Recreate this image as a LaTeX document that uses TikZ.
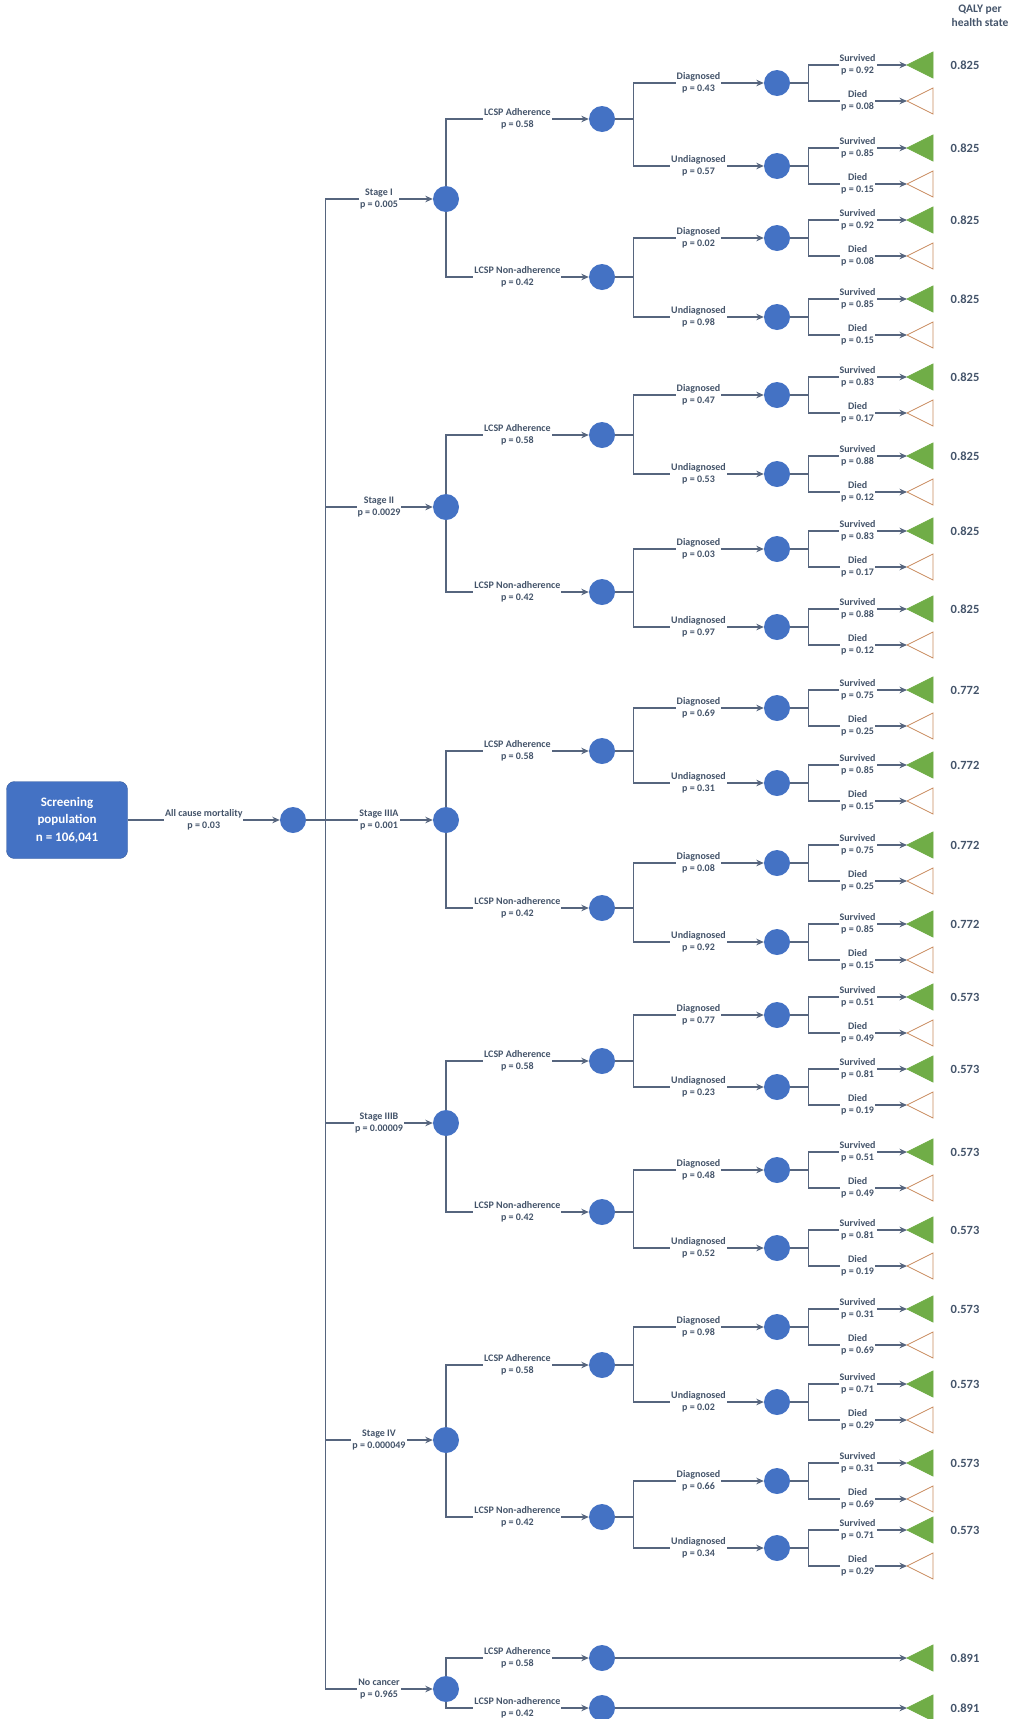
\documentclass[tikz,border=0pt]{standalone}
\usepackage{fontspec}
\setmainfont{Carlito}
\usetikzlibrary{arrows.meta}
\definecolor{dtblue}{HTML}{4472C4}
\definecolor{dtslate}{HTML}{44546A}
\definecolor{dtline}{HTML}{56657E}
\definecolor{dtgreen}{HTML}{70AD47}
\definecolor{dtorange}{HTML}{C98B5E}

% second level: LCSP adherence chance node
\newcommand{\lcspnode}[5]{%
  \node[chance] (#1) at (602,#2) {};
  \draw[edge] (#3) |- node[lbl,pos=0.75]{#4\\p = #5} (#1);
}
% third level: diagnosis chance node with survived / died leaves
\newcommand{\outcomepair}[7]{%
  \node[chance] (#1) at (777,#2) {};
  \draw[stub] (#3.east) -- ++(18,0);
  \draw[edge] (#3.east) -- ++(18,0) |- node[lbl,pos=0.75]{#4} (#1);
  \coordinate (#1s) at (907,{#2-18});
  \coordinate (#1d) at (907,{#2+18});
  \draw[stub] (#1.east) -- ++(18,0);
  \draw[edge] (#1.east) -- ++(18,0) |- node[lbl,pos=0.75]{Survived\\p = #5} (#1s);
  \draw[edge] (#1.east) -- ++(18,0) |- node[lbl,pos=0.75]{Died\\p = #6} (#1d);
  \filldraw[alive] (#1s) -- ++(26,-13) -- ++(0,26) -- cycle;
  \filldraw[dead] (#1d) -- ++(26,-13) -- ++(0,26) -- cycle;
  \node[qaly] (#1v) at (965,{#2-18}) {#7};
}

\begin{document}
\begin{tikzpicture}[x=1pt, y=-1pt,
  chance/.style={circle, fill=dtblue, minimum size=26pt, inner sep=0pt},
  edge/.style={draw=dtline, line width=1.3pt, -{Stealth[length=7.5pt,width=6.5pt]}},
  stub/.style={draw=dtline, line width=2.4pt},
  lbl/.style={fill=white, inner sep=1pt, align=center, text=dtslate, font=\bfseries\fontsize{10}{12.5}\selectfont},
  alive/.style={fill=dtgreen, draw=dtgreen, line width=0.8pt},
  dead/.style={fill=white, draw=dtorange, line width=0.8pt},
  qaly/.style={text=dtslate, font=\bfseries\fontsize{12.5}{15}\selectfont},
  root/.style={rounded corners=8pt, fill=dtblue, draw=dtblue!80!black, text=white, align=center,
    minimum width=121pt, minimum height=77pt, font=\bfseries\fontsize{13}{17.5}\selectfont}]
  \useasboundingbox (0,0) rectangle (1011,1719);

  % column header
  \node[qaly, align=center, font=\bfseries\fontsize{11.5}{14}\selectfont] (head) at (980,16) {QALY per\\health state};

  % screening population and all cause mortality
  \node[root] (pop) at (67,820) {Screening\\population\\n = 106,041};
  \node[chance] (n0) at (293,820) {};
  \draw[edge] (pop) -- node[lbl]{All cause mortality\\p = 0.03} (n0);
  \draw[stub] (n0.east) -- ++(19,0);

  % stage I
  \node[chance] (s1) at (446,199) {};
  \draw[edge] (n0.east) -- ++(19,0) |- node[lbl,pos=0.75]{Stage I\\p = 0.005} (s1);
  \lcspnode{s1a}{119}{s1}{LCSP Adherence}{0.58}
  \lcspnode{s1n}{277}{s1}{LCSP Non-adherence}{0.42}
  \outcomepair{s1ad}{83}{s1a}{Diagnosed\\p = 0.43}{0.92}{0.08}{0.825}
  \outcomepair{s1au}{166}{s1a}{Undiagnosed\\p = 0.57}{0.85}{0.15}{0.825}
  \outcomepair{s1nd}{238}{s1n}{Diagnosed\\p = 0.02}{0.92}{0.08}{0.825}
  \outcomepair{s1nu}{317}{s1n}{Undiagnosed\\p = 0.98}{0.85}{0.15}{0.825}

  % stage II
  \node[chance] (s2) at (446,507) {};
  \draw[edge] (n0.east) -- ++(19,0) |- node[lbl,pos=0.75]{Stage II\\p = 0.0029} (s2);
  \lcspnode{s2a}{435}{s2}{LCSP Adherence}{0.58}
  \lcspnode{s2n}{592}{s2}{LCSP Non-adherence}{0.42}
  \outcomepair{s2ad}{395}{s2a}{Diagnosed\\p = 0.47}{0.83}{0.17}{0.825}
  \outcomepair{s2au}{474}{s2a}{Undiagnosed\\p = 0.53}{0.88}{0.12}{0.825}
  \outcomepair{s2nd}{549}{s2n}{Diagnosed\\p = 0.03}{0.83}{0.17}{0.825}
  \outcomepair{s2nu}{627}{s2n}{Undiagnosed\\p = 0.97}{0.88}{0.12}{0.825}

  % stage IIIA
  \node[chance] (s3) at (446,820) {};
  \draw[edge] (n0.east) -- ++(19,0) |- node[lbl,pos=0.75]{Stage IIIA\\p = 0.001} (s3);
  \lcspnode{s3a}{751}{s3}{LCSP Adherence}{0.58}
  \lcspnode{s3n}{908}{s3}{LCSP Non-adherence}{0.42}
  \outcomepair{s3ad}{708}{s3a}{Diagnosed\\p = 0.69}{0.75}{0.25}{0.772}
  \outcomepair{s3au}{783}{s3a}{Undiagnosed\\p = 0.31}{0.85}{0.15}{0.772}
  \outcomepair{s3nd}{863}{s3n}{Diagnosed\\p = 0.08}{0.75}{0.25}{0.772}
  \outcomepair{s3nu}{942}{s3n}{Undiagnosed\\p = 0.92}{0.85}{0.15}{0.772}

  % stage IIIB
  \node[chance] (s4) at (446,1123) {};
  \draw[edge] (n0.east) -- ++(19,0) |- node[lbl,pos=0.75]{Stage IIIB\\p = 0.00009} (s4);
  \lcspnode{s4a}{1061}{s4}{LCSP Adherence}{0.58}
  \lcspnode{s4n}{1212}{s4}{LCSP Non-adherence}{0.42}
  \outcomepair{s4ad}{1015}{s4a}{Diagnosed\\p = 0.77}{0.51}{0.49}{0.573}
  \outcomepair{s4au}{1087}{s4a}{Undiagnosed\\p = 0.23}{0.81}{0.19}{0.573}
  \outcomepair{s4nd}{1170}{s4n}{Diagnosed\\p = 0.48}{0.51}{0.49}{0.573}
  \outcomepair{s4nu}{1248}{s4n}{Undiagnosed\\p = 0.52}{0.81}{0.19}{0.573}

  % stage IV
  \node[chance] (s5) at (446,1440) {};
  \draw[edge] (n0.east) -- ++(19,0) |- node[lbl,pos=0.75]{Stage IV\\p = 0.000049} (s5);
  \lcspnode{s5a}{1365}{s5}{LCSP Adherence}{0.58}
  \lcspnode{s5n}{1517}{s5}{LCSP Non-adherence}{0.42}
  \outcomepair{s5ad}{1327}{s5a}{Diagnosed\\p = 0.98}{0.31}{0.69}{0.573}
  \outcomepair{s5au}{1402}{s5a}{Undiagnosed\\p = 0.02}{0.71}{0.29}{0.573}
  \outcomepair{s5nd}{1481}{s5n}{Diagnosed\\p = 0.66}{0.31}{0.69}{0.573}
  \outcomepair{s5nu}{1548}{s5n}{Undiagnosed\\p = 0.34}{0.71}{0.29}{0.573}

  % no cancer
  \node[chance] (nc) at (446,1689) {};
  \draw[edge] (n0.east) -- ++(19,0) |- node[lbl,pos=0.75]{No cancer\\p = 0.965} (nc);
  \lcspnode{nca}{1658}{nc}{LCSP Adherence}{0.58}
  \lcspnode{ncn}{1708}{nc}{LCSP Non-adherence}{0.42}
  \coordinate (ncat) at (907,1658);
  \coordinate (ncnt) at (907,1708);
  \draw[edge] (nca) -- (ncat);
  \draw[edge] (ncn) -- (ncnt);
  \filldraw[alive] (ncat) -- ++(26,-13) -- ++(0,26) -- cycle;
  \filldraw[alive] (ncnt) -- ++(26,-13) -- ++(0,26) -- cycle;
  \node[qaly] (ncav) at (965,1658) {0.891};
  \node[qaly] (ncnv) at (965,1708) {0.891};
\end{tikzpicture}
\end{document}
